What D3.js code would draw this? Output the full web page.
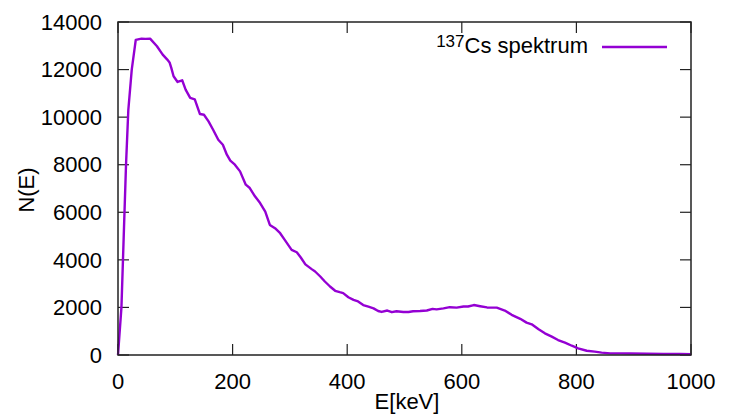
<!DOCTYPE html>
<html>
<head>
<meta charset="utf-8">
<script src="https://cdn.jsdelivr.net/npm/d3@7"></script>
<style>
  html, body { margin: 0; padding: 0; background: #fff; }
  svg { display: block; font-family: "Liberation Sans", Arial, sans-serif; }
</style>
</head>
<body>
<svg id="chart" width="731" height="417"></svg>
<script>
const energy = [0,6,10,14,18,24,31,
  41,48,56,68,78,86,90,93,97,104,
  112,118,126,134,143,150,158,166,175,183,
  190,196,204,213,223,230,239,248,257,265,
  274,283,291,303,312,319,327,338,344,353,
  361,370,379,387,393,402,411,419,428,437,
  446,454,460,470,478,486,498,507,515,527,
  539,549,556,568,579,591,603,611,621,632,
  644,661,675,687,702,713,722,734,745,757,
  768,780,792,803,818,832,844,859,876,894,
  923,952,981,1000];
const counts = [0,2000,5000,8000,10300,12000,13250,
  13300,13290,13300,12980,12630,12420,12300,12070,11720,11480,
  11550,11160,10810,10750,10130,10100,9820,9470,9050,8840,
  8420,8170,8000,7720,7160,7020,6670,6390,6030,5470,
  5330,5120,4840,4420,4320,4100,3810,3610,3510,3300,
  3090,2880,2700,2640,2600,2430,2320,2250,2100,2030,
  1960,1850,1810,1870,1800,1840,1810,1810,1840,1850,
  1870,1940,1920,1960,2010,1990,2040,2040,2100,2050,
  2000,1990,1870,1690,1520,1360,1290,1080,910,770,
  630,520,390,280,180,140,100,70,70,60,
  55,45,40,30];
const xTicks = [0,200,400,600,800,1000];
const yTicks = [0,2000,4000,6000,8000,10000,12000,14000];
const seriesName = "Cs spektrum";
const seriesSup = "137";
const xLabel = "E[keV]";
const yLabel = "N(E)";

(function () {
const data = energy.map((e, i) => ({e, n: counts[i]}));

const pL = 118, pR = 691, pT = 22, pB = 355;
const svg = d3.select("#chart");
const x = d3.scaleLinear().domain([0, 1000]).range([pL, pR]);
const y = d3.scaleLinear().domain([0, 14000]).range([pB, pT]);
const tickLen = 11;
const axisColor = "#222";
const purple = "#9400d3";

// ticks (inward, mirrored)
const tg = svg.append("g").attr("stroke", axisColor).attr("stroke-width", 1.2);
xTicks.forEach(t => {
  tg.append("line").attr("x1", x(t)).attr("x2", x(t)).attr("y1", pB).attr("y2", pB - tickLen);
  tg.append("line").attr("x1", x(t)).attr("x2", x(t)).attr("y1", pT).attr("y2", pT + tickLen);
});
yTicks.forEach(t => {
  tg.append("line").attr("x1", pL).attr("x2", pL + tickLen).attr("y1", y(t)).attr("y2", y(t));
  tg.append("line").attr("x1", pR).attr("x2", pR - tickLen).attr("y1", y(t)).attr("y2", y(t));
});

// tick labels
svg.append("g").selectAll("text").data(xTicks).join("text")
  .attr("x", d => x(d)).attr("y", 389)
  .attr("text-anchor", "middle").attr("font-size", 22).attr("fill", "#000")
  .text(d => d);
svg.append("g").selectAll("text").data(yTicks).join("text")
  .attr("x", 102).attr("y", d => y(d)).attr("dy", "0.35em")
  .attr("text-anchor", "end").attr("font-size", 22).attr("fill", "#000")
  .text(d => d);

// axis labels
svg.append("text").attr("x", 407).attr("y", 409).attr("text-anchor", "middle")
  .attr("font-size", 22).text(xLabel);
svg.append("text").attr("transform", "translate(34,190) rotate(-90)")
  .attr("text-anchor", "middle").attr("font-size", 22).text(yLabel);

// curve
const line = d3.line().x(d => x(d.e)).y(d => y(d.n));
svg.append("path").datum(data).attr("d", line)
  .attr("fill", "none").attr("stroke", purple).attr("stroke-width", 2.4)
  .attr("stroke-linejoin", "round");

// frame
svg.append("path")
  .attr("d", `M${pL},${pT}H${pR}V${pB}H${pL}Z`)
  .attr("fill", "none").attr("stroke", axisColor).attr("stroke-width", 1.5);

// legend
const lt = svg.append("text").attr("x", 588).attr("y", 53).attr("text-anchor", "end").attr("fill", "#000");
lt.append("tspan").attr("font-size", 17).attr("dy", -6).text(seriesSup);
lt.append("tspan").attr("font-size", 22).attr("dy", 6).text(seriesName);
svg.append("line").attr("x1", 602).attr("x2", 667).attr("y1", 47).attr("y2", 47)
  .attr("stroke", purple).attr("stroke-width", 2.4);
})();
</script>
</body>
</html>
